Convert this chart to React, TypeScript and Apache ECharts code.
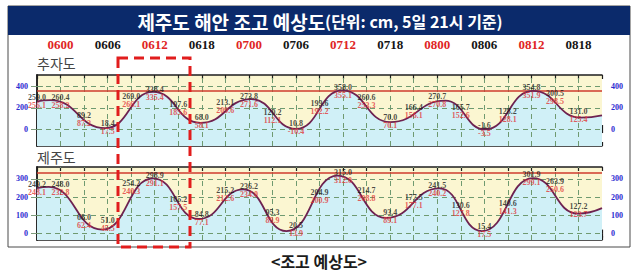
import React, { useEffect, useRef } from 'react';
import * as echarts from 'echarts';

// time labels (DDHH) at hours 3, 9, 15, ... from 5일 21시
const TIME_LABELS = ['0600', '0606', '0612', '0618', '0700', '0706', '0712', '0718', '0800', '0806', '0812', '0818'];
// hours of the 3-hourly value labels
const LABEL_HOURS = [0, 3, 6, 9, 12, 15, 18, 21, 24, 27, 30, 33, 36, 39, 42, 45, 48, 51, 54, 57, 60, 63, 66, 69];

// 추자도
const CHUJA_BLACK = [259.0, 260.4, 89.2, 18.4, 269.0, 338.4, 197.6, 68.0, 213.1, 273.8, 120.2, 10.8, 199.6, 358.0, 260.6, 70.0, 166.4, 270.7, 165.7, -1.6, 128.2, 354.8, 300.5, 131.0];
const CHUJA_RED = [256.1, 258.2, 87.2, 17.5, 266.1, 335.4, 185.6, 58.1, 209.6, 271.6, 112.1, -10.4, 192.2, 355.1, 253.3, 70.1, 156.1, 270.8, 152.6, -3.5, 128.1, 351.9, 298.5, 125.4];
const CHUJA_CURVE_H = [0, 1.7, 8.7, 14.8, 20.8, 27.3, 33.0, 38.9, 45.0, 52.0, 57.1, 63.2, 69.3, 72];
const CHUJA_CURVE_V = [262, 272, 8, 350, 58, 282, 2, 365, 66, 268, -4, 360, 108, 130];
const CHUJA_TICKS = [0, 200, 400];
const CHUJA_WARN = 360;

// 제주도
const JEJU_BLACK = [249.2, 248.0, 68.0, 51.0, 254.2, 298.9, 165.2, 84.8, 215.2, 236.2, 95.3, 20.5, 204.9, 315.0, 214.7, 93.4, 177.5, 241.5, 130.6, 15.4, 140.6, 301.9, 263.9, 127.2];
const JEJU_RED = [248.1, 232.8, 62.4, 45.5, 240.3, 291.1, 157.5, 77.1, 212.6, 234.0, 89.9, 13.9, 200.9, 312.0, 208.8, 89.1, 177.1, 240.2, 127.8, 17.5, 141.3, 299.1, 250.6, 123.7];
const JEJU_CURVE_H = [0, 1.5, 8.3, 14.8, 20.6, 26.3, 31.8, 38.3, 44.5, 51.3, 56.7, 63.2, 68.9, 72];
const JEJU_CURVE_V = [249, 256, 22, 303, 80, 242, 14, 318, 86, 248, 14, 304, 110, 140];
const JEJU_TICKS = [0, 100, 200, 300];
const JEJU_WARN = 333;

const GRID_HOURS = [3, 6, 9, 12, 15, 18, 21, 24, 27, 30, 33, 36, 39, 42, 45, 48, 51, 54, 57, 60, 63, 66, 69];

const SERIF = 'Liberation Serif';
const KR = 'Noto Sans CJK KR';

function xAx(gridIndex: number, position: string, inside: boolean) {
  return {
    type: 'value', gridIndex, position, min: 0, max: 72, interval: 3,
    axisLine: { show: true, lineStyle: { color: '#1e1e1e', width: 1.5 } },
    axisTick: { show: true, inside, length: 4, lineStyle: { color: '#1e1e1e', width: 1.2 } },
    axisLabel: { show: false },
    splitLine: { show: false },
  };
}

function yAx(gridIndex: number, position: string, min: number, max: number, ticks: number[]) {
  return {
    type: 'value', gridIndex, position, min, max,
    axisLine: { show: true, lineStyle: { color: '#1e1e1e', width: 1.5 } },
    axisTick: { show: true, customValues: ticks, length: 6, lineStyle: { color: '#7d9c7d', width: 1 } },
    axisLabel: { show: true, customValues: ticks, margin: 9, color: '#2b2bd0', fontFamily: SERIF, fontWeight: 'bold', fontSize: 8 },
    splitLine: { show: false },
  };
}

const dash = { type: [5, 4] as any, color: '#6f9a70', width: 1 };

function panelSeries(xi: number, yi: number, hH: number[], hV: number[], black: number[], red: number[], ticks: number[], warn: number) {
  return [
    {
      type: 'line', xAxisIndex: xi, yAxisIndex: yi,
      data: hH.map((h, i) => [h, hV[i]]),
      smooth: 0.5, smoothMonotone: 'x', showSymbol: false, symbol: 'none',
      lineStyle: { width: 0, color: 'transparent' },
      areaStyle: { origin: 'start', color: '#d0f0f7', opacity: 1 },
      z: 1,
      markLine: {
        silent: true, symbol: 'none', label: { show: false }, z: 2,
        data: [
          ...ticks.map((v) => ({ yAxis: v, lineStyle: dash })),
          ...GRID_HOURS.map((h) => ({ xAxis: h, lineStyle: dash })),
          { yAxis: warn, lineStyle: { type: 'solid', color: '#cf3b2c', width: 1.6 } },
        ],
      },
    },
    {
      type: 'line', xAxisIndex: xi, yAxisIndex: yi,
      data: hH.map((h, i) => [h, hV[i]]),
      smooth: 0.5, smoothMonotone: 'x', showSymbol: false, symbol: 'none',
      lineStyle: { width: 1.8, color: '#6e2250' },
      z: 5,
    },
    {
      type: 'scatter', xAxisIndex: xi, yAxisIndex: yi,
      data: LABEL_HOURS.map((h, i) => [h, black[i], red[i]]),
      symbolSize: 1, itemStyle: { color: 'transparent' }, z: 8,
      label: {
        show: true, position: 'inside',
        formatter: (p: any) => `{b|${p.value[1].toFixed(1)}}\n{r|${p.value[2].toFixed(1)}}`,
        rich: {
          b: { color: '#1b1b1b', fontFamily: SERIF, fontWeight: 'bold', fontSize: 8, lineHeight: 8 },
          r: { color: '#e23535', fontFamily: SERIF, fontWeight: 'bold', fontSize: 8, lineHeight: 8 },
        },
      },
    },
  ];
}

export default function App() {
  const ref = useRef<HTMLDivElement>(null);
  useEffect(() => {
    if (!ref.current) return;
    const chart = echarts.init(ref.current, undefined, { renderer: 'svg' });
    const option: any = {
      animation: false,
      backgroundColor: '#ffffff',
      grid: [
        { left: 37, top: 75, width: 565, height: 71, show: true, backgroundColor: '#fbf6d1', borderWidth: 0 },
        { left: 37, top: 167, width: 565, height: 73, show: true, backgroundColor: '#fbf6d1', borderWidth: 0 },
      ],
      xAxis: [
        xAx(0, 'bottom', false),
        xAx(0, 'top', false),
        xAx(0, 'bottom', true),
        xAx(0, 'top', true),
        xAx(1, 'bottom', false),
        xAx(1, 'top', false),
        xAx(1, 'bottom', true),
        xAx(1, 'top', true),
        {
          type: 'value', gridIndex: 0, position: 'top', min: 0, max: 72, interval: 3,
          axisLine: { show: false }, axisTick: { show: false }, splitLine: { show: false },
          axisLabel: {
            show: true, margin: 24, showMinLabel: false, showMaxLabel: false,
            formatter: (v: number) => {
              const h = Math.round(v);
              if (h < 3 || (h - 3) % 6 !== 0) return '';
              const i = (h - 3) / 6;
              if (i >= TIME_LABELS.length) return '';
              return i % 2 === 0 ? `{r|${TIME_LABELS[i]}}` : `{k|${TIME_LABELS[i]}}`;
            },
            rich: {
              r: { color: '#e02424', fontFamily: SERIF, fontWeight: 'bold', fontSize: 13 },
              k: { color: '#151515', fontFamily: SERIF, fontWeight: 'bold', fontSize: 13 },
            },
          },
        },
      ],
      yAxis: [
        yAx(0, 'left', -160, 510, CHUJA_TICKS),
        yAx(0, 'right', -160, 510, CHUJA_TICKS),
        yAx(1, 'left', -35, 365, JEJU_TICKS),
        yAx(1, 'right', -35, 365, JEJU_TICKS),
      ],
      series: [
        ...panelSeries(0, 0, CHUJA_CURVE_H, CHUJA_CURVE_V, CHUJA_BLACK, CHUJA_RED, CHUJA_TICKS, CHUJA_WARN),
        ...panelSeries(4, 2, JEJU_CURVE_H, JEJU_CURVE_V, JEJU_BLACK, JEJU_RED, JEJU_TICKS, JEJU_WARN),
      ],
      graphic: [
        { type: 'rect', shape: { x: 8, y: 6, width: 622, height: 241 }, style: { fill: 'none', stroke: '#4a4a4a', lineWidth: 1 }, z: 1 },
        { type: 'rect', shape: { x: 8, y: 6, width: 622, height: 29 }, style: { fill: '#0b2a6b' }, z: 2 },
        {
          type: 'text', x: 320, y: 21, z: 3,
          style: {
            text: '{a|제주도 해안 조고 예상도}{b|(단위: cm, 5일 21시 기준)}',
            align: 'center', verticalAlign: 'middle',
            rich: {
              a: { fill: '#ffffff', fontFamily: KR, fontWeight: 'bold', fontSize: 19 },
              b: { fill: '#ffffff', fontFamily: KR, fontWeight: 'bold', fontSize: 16 },
            },
          },
        },
        { type: 'text', x: 37, y: 63, z: 3, style: { text: '추자도', fill: '#454545', fontFamily: KR, fontSize: 14, verticalAlign: 'middle' } },
        { type: 'text', x: 37, y: 157, z: 3, style: { text: '제주도', fill: '#454545', fontFamily: KR, fontSize: 14, verticalAlign: 'middle' } },
        { type: 'rect', shape: { x: 118, y: 58, width: 72, height: 189 }, style: { fill: 'none', stroke: '#e11d1d', lineWidth: 3, lineDash: [10, 6] }, z: 20 },
        { type: 'text', x: 319, y: 261, z: 3, style: { text: '<조고 예상도>', fill: '#1c1c1c', fontFamily: KR, fontWeight: 'bold', fontSize: 16, align: 'center', verticalAlign: 'middle' } },
      ],
    };
    chart.setOption(option);
    return () => chart.dispose();
  }, []);
  return <div ref={ref} style={{ position: 'absolute', left: 0, top: 0, width: 640, height: 273 }} />;
}
